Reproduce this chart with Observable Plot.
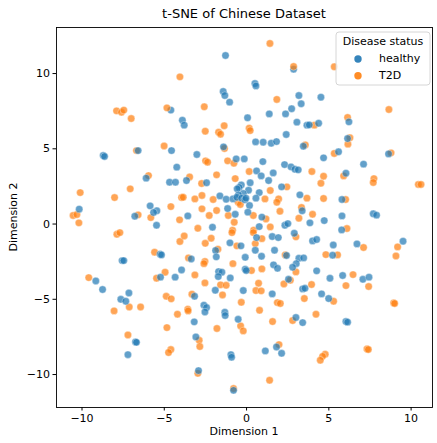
<!DOCTYPE html>
<html><head><meta charset="utf-8">
<script src="https://cdn.jsdelivr.net/npm/d3@7"></script>
<script src="https://cdn.jsdelivr.net/npm/@observablehq/plot@0.6"></script>
<style>body{margin:0;background:#fff} svg{display:block}</style>
</head><body><div id="chart"></div>
<script>
const categories = ["healthy", "T2D"];
const colors = ["#1f77b4", "#ff7f0e"];
const xTicks = [-10, -5, 0, 5, 10];
const yTicks = [-10, -5, 0, 5, 10];
const titleText = "t-SNE of Chinese Dataset";
const xLabel = "Dimension 1";
const yLabel = "Dimension 2";
const legendTitle = "Disease status";

const healthy = [
[-4.60,7.57],[-3.9,6.90],
[-1.28,11.20],[2.86,10.29],[0.51,9.34],[0.57,9.18],[-1.42,8.81],[-1.32,8.54],[-1.03,8.10],[3.18,8.54],[3.32,7.99],[2.74,7.66],[0.06,7.06],[1.38,7.32],[2.37,7.32],[3.06,6.77],[-3.79,6.57],[3.67,6.57],
[4.52,8.43],[6.22,6.79],[3.81,6.59],[4.38,6.70],
[-4.56,4.88],[-8.71,4.55],[-8.63,4.49],[-6.59,4.88],[-4.24,3.78],[-6.10,3.05],[-4.68,2.78],[-4.32,2.78],[-10.17,0.99],[-5.86,1.21],[-5.45,0.88],[-5.65,0.77],[-6.79,0.52],[-5.47,-0.08],
[-7.56,-2.43],[-7.46,-2.43],[-5.25,-2.01],[-5.17,-2.05],[-3.95,-3.05],[-5.23,-3.53],[-4.34,-3.53],[-9.16,-3.78],[-8.75,-4.35],[-7.15,-4.58],[-7.64,-5.00],[-7.34,-5.13],
[-6.75,-7.83],[-6.69,-7.86],[-7.21,-8.68],
[2.41,5.95],[0.55,5.46],[1.01,5.44],[1.50,5.37],[1.82,5.48],[3.45,5.17],[-1.40,5.13],[-3.02,4.62],[-0.63,4.33],[-0.14,4.33],[0.99,4.15],[2.31,3.95],[2.70,3.80],[2.94,3.64],[3.14,3.60],[0.61,3.53],[0.89,3.20],[1.62,3.40],[-3.65,2.89],[1.34,2.89],[-2.43,2.74],[0.22,2.74],[-0.32,2.60],[-0.45,2.43],[-0.57,2.34],[2.13,2.47],[0.12,2.25],[-0.20,2.03],[0.77,2.09],[-0.49,1.94],[3.24,1.94],[-1.62,1.87],[-1.24,1.65],[-0.83,1.67],[-0.59,1.78],[-0.30,1.72],[-0.10,1.61],[-0.04,1.72],[0.57,1.72],[0.18,1.23],[-1.15,1.03],[-0.69,0.65],[0.08,0.79],[3.38,0.88],[-3.57,0.54],[0.93,0.46],[-2.07,-0.21],[0.77,-0.17],[2.33,-0.08],[2.51,0.03],
[6.14,5.68],[5.59,4.80],[4.68,4.40],[8.63,4.66],[7.11,3.98],[6.04,3.38],[5.80,1.63],[7.70,0.68],[7.90,0.59],[3.85,0.08],[4.72,0.23],[5.80,0.54],[5.78,-0.39],
[0.61,-0.90],[1.56,-0.83],[1.93,-0.90],[2.90,-0.61],[-1.01,-1.25],[-0.34,-1.45],[-1.88,-1.76],[-1.84,-2.18],[0.53,-1.74],[1.70,-1.74],[0.91,-2.14],[2.43,-2.09],[-0.08,-2.21],[-3.36,-2.32],[3.18,-2.27],[3.47,-2.25],[3.02,-2.63],[2.80,-2.87],[1.64,-2.71],[1.88,-2.94],[-1.70,-3.16],[-1.50,-3.20],[-1.72,-3.49],[-0.08,-3.00],[-0.02,-3.09],[-0.99,-3.58],[2.55,-3.67],[-1.90,-4.40],[-0.20,-4.42],[1.56,-4.64],[3.41,-4.31],[3.55,-4.27],[-3.16,-4.80],[-2.59,-5.39],[-2.43,-5.55],[-2.53,-5.84],[-1.32,-5.86],[-1.30,-6.08],[-0.51,-6.33],[-3.18,-6.50],[3.00,-6.21],[3.41,-6.55],
[4.01,-1.12],[4.26,-1.03],[5.27,-1.39],[6.71,-1.32],[9.51,-1.14],[5.23,-2.07],[4.26,-3.11],[5.07,-3.60],[5.84,-3.42],[7.07,-3.67],[7.44,-3.53],[4.56,-4.64],[4.99,-4.95],[6.04,-6.48],[6.14,-6.52],
[-3.08,-7.50],[-0.95,-8.68],[-0.91,-8.85],[1.14,-8.43],[1.82,-8.17],[2.13,-8.59],[-2.92,-9.74],[-0.79,-11.05]
];

const t2d = [
[-4.05,9.78],[-7.90,7.52],[-7.60,7.43],[-7.46,7.57],[-7.01,7.01],[-4.84,7.72],
[1.42,12.0],[2.86,10.47],[1.84,8.28],[-2.57,7.79],[-1.36,6.53],[0.16,6.37],
[5.33,10.45],[8.65,7.61],[6.14,7.08],[4.12,6.57],
[-5.01,5.19],[-6.69,4.88],[-5.96,3.22],[-10.11,2.09],[-7.07,2.34],[-8.02,1.76],[-3.95,1.76],[-10.54,0.57],[-10.31,0.63],[-10.19,0.08],[-4.60,1.16],[-6.59,0.61],[-5.82,0.43],[-4.07,0.28],
[-7.88,-0.68],[-7.70,-0.57],[-4.05,-1.16],[-5.59,-1.87],[-4.95,-3.20],[-5.47,-3.60],[-9.59,-3.56],[-4.88,-4.80],[-4.58,-4.97],[-7.13,-5.51],[-6.44,-5.51],[-8.05,-5.77],[-4.20,-5.99],[-4.84,-6.88],
[-7.21,-7.37],[-4.60,-8.34],[-4.74,-8.54],
[-2.51,6.17],[-1.70,6.10],[-1.58,5.97],[0.22,6.21],[3.57,5.26],[-1.34,5.02],[-2.49,4.20],[-2.37,4.11],[-1.15,4.20],[-0.77,4.04],[0.16,3.49],[-1.82,3.27],[-3.46,3.13],[-0.69,3.02],[-2.73,2.69],[2.45,2.47],[1.44,2.23],[-3.85,1.78],[-3.14,1.67],[-2.71,1.90],[-2.03,1.63],[1.12,1.67],[1.95,1.67],[1.84,1.45],[3.67,1.72],[-0.51,1.45],[-0.38,1.30],[-2.71,1.01],[-1.82,0.90],[0.41,0.57],[2.03,0.85],[3.34,1.10],[-2.27,0.57],[-1.11,0.57],[1.18,0.34],[-0.75,0.12],[3.18,0.39],[-2.96,-0.28],[1.44,-0.19],[-0.85,-0.41],[0.43,-0.41],
[6.28,5.73],[6.16,5.31],[5.33,4.69],[8.78,4.73],[3.97,3.49],[4.68,3.18],[5.90,3.20],[4.52,2.71],[7.74,3.02],[7.70,2.76],[10.44,2.63],[10.60,2.63],[4.68,1.70],[6.02,1.63],[4.01,0.65],[6.10,-0.30],
[-3.79,-0.79],[-2.15,-0.94],[-0.89,-0.57],[0.41,-0.57],[0.93,-0.97],[3.00,-0.85],[-2.51,-1.28],[-0.59,-1.45],[0.53,-1.30],[-1.74,-1.67],[2.35,-2.05],[-3.53,-2.25],[-2.53,-2.49],[-2.59,-2.63],[-0.83,-2.63],[0.30,-3.09],[0.93,-2.98],[3.00,-3.18],[-3.14,-3.38],[2.66,-3.73],[-2.53,-3.91],[-1.58,-4.04],[-1.24,-4.07],[0.73,-3.93],[2.27,-3.98],[-1.46,-4.71],[0.57,-4.42],[0.89,-4.44],[3.51,-4.95],[-3.32,-4.66],[-0.32,-5.20],[1.87,-5.22],[2.05,-5.28],[-3.57,-5.66],[-3.55,-5.77],[0.79,-5.73],[1.58,-6.48],[2.80,-6.41],[-0.36,-6.77],[-0.20,-7.10],[-1.80,-6.94],
[7.11,-1.56],[9.18,-1.52],[9.08,-2.12],[4.82,-2.03],[5.53,-2.05],[6.47,-3.36],[7.42,-4.15],[6.04,-4.09],[3.95,-4.02],[5.29,-5.13],[8.94,-5.24],[9.00,-5.28],[4.22,-5.99],
[-2.88,-7.72],[-2.84,-8.14],[1.97,-8.01],[-2.96,-9.92],[1.40,-10.38],[-0.79,-10.93],
[4.78,-8.65],[4.62,-8.79],[4.48,-9.05],[7.32,-8.30],[7.40,-8.34]
];

const data = [];
const n = Math.max(healthy.length, t2d.length);
for (let i = 0; i < n; i++) {
  if (i < healthy.length) data.push({x: healthy[i][0], y: healthy[i][1], status: categories[0]});
  if (i < t2d.length) data.push({x: t2d[i][0], y: t2d[i][1], status: categories[1]});
}

const fmt = d => d < 0 ? "\u2212" + Math.abs(d) : String(d);
const W = 437, H = 443, mL = 56, mR = 5, mT = 27, mB = 36;
const font = "DejaVu Sans";

const chart = Plot.plot({
  width: W, height: H,
  marginLeft: mL, marginRight: mR, marginTop: mT, marginBottom: mB,
  style: {fontFamily: font, fontSize: "11px", background: "#fff", color: "#000"},
  x: {domain: [-11.55, 11.3], label: null},
  y: {domain: [-12.19, 13.06], label: null},
  color: {domain: categories, range: colors},
  marks: [
    Plot.dot(data, {x: "x", y: "y", fill: "status", r: 3.7, fillOpacity: 0.7, stroke: "white", strokeWidth: 0.5, strokeOpacity: 0.7}),
    Plot.frame({stroke: "#000", strokeWidth: 0.9}),
    Plot.axisX({ticks: xTicks, tickFormat: fmt, tickSize: 3.5, tickPadding: 3, fontSize: 11, label: null}),
    Plot.axisY({ticks: yTicks, tickFormat: fmt, tickSize: 3.5, tickPadding: 3, fontSize: 11, label: null})
  ]
});
document.getElementById("chart").appendChild(chart);

const svg = d3.select(chart);
const cx = (mL + (W - mR)) / 2;
svg.append("text").attr("x", cx).attr("y", 14).attr("text-anchor", "middle").attr("dominant-baseline", "middle")
  .style("font-family", font).style("font-size", "13px").attr("fill", "#000").text(titleText);
svg.append("text").attr("x", cx).attr("y", 432).attr("text-anchor", "middle").attr("dominant-baseline", "middle")
  .style("font-family", font).style("font-size", "11px").attr("fill", "#000").text(xLabel);
svg.append("text").attr("transform", `translate(14,${(mT + H - mB) / 2}) rotate(-90)`).attr("text-anchor", "middle").attr("dominant-baseline", "middle")
  .style("font-family", font).style("font-size", "11px").attr("fill", "#000").text(yLabel);

const lg = svg.append("g");
lg.append("rect").attr("x", 336).attr("y", 32).attr("width", 94).attr("height", 53).attr("rx", 3)
  .attr("fill", "#fff").attr("fill-opacity", 0.8).attr("stroke", "#ccc").attr("stroke-width", 0.8);
lg.append("text").attr("x", 383).attr("y", 42).attr("text-anchor", "middle").attr("dominant-baseline", "middle")
  .style("font-family", font).style("font-size", "11px").attr("fill", "#000").text(legendTitle);
categories.forEach((c, i) => {
  const yy = 59 + i * 16.7;
  lg.append("circle").attr("cx", 358).attr("cy", yy).attr("r", 3.7).attr("fill", colors[i]).attr("fill-opacity", 0.9);
  lg.append("text").attr("x", 379).attr("y", yy).attr("text-anchor", "start").attr("dominant-baseline", "middle")
    .style("font-family", font).style("font-size", "11px").attr("fill", "#000").text(c);
});
</script></body></html>
